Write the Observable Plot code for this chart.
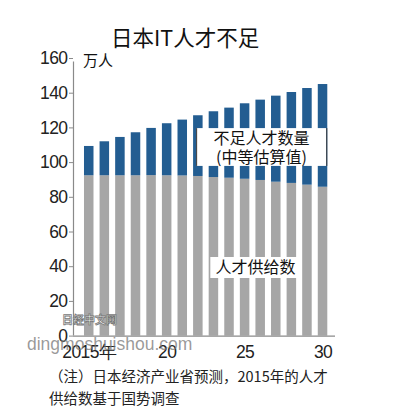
<!DOCTYPE html>
<html>
<head>
<meta charset="utf-8">
<script src="https://cdn.jsdelivr.net/npm/d3@7"></script>
<script src="https://cdn.jsdelivr.net/npm/@observablehq/plot@0.6"></script>
<style>
  html, body { margin: 0; padding: 0; background: #fff; }
  #wrap { position: relative; width: 397px; height: 412px; overflow: hidden; background: #fff;
          font-family: "Noto Sans CJK SC", "Noto Sans", sans-serif; color: #111; }
  #title { position: absolute; left: 111px; top: 26px; font-size: 21.5px; line-height: 22px; white-space: nowrap; }
  #unit { position: absolute; left: 83px; top: 52px; font-size: 15px; line-height: 15px; white-space: nowrap; }
  #chart { position: absolute; left: 0; top: 45px; }
  #chart svg g[aria-label$="tick label"] text { letter-spacing: -0.6px; }
  #note { position: absolute; left: 49px; top: 365px; font-size: 14.5px; line-height: 22px; white-space: nowrap; color: #222; }
  #wm1 { position: absolute; left: 27px; top: 334px; font-family: "Liberation Sans", Arial, sans-serif;
         font-size: 17.5px; line-height: 20px; color: rgba(120,120,120,0.75); white-space: nowrap; }
  #wm2 { position: absolute; left: 62px; top: 313px; font-size: 11px; line-height: 12px; font-weight: bold;
         color: #fff; -webkit-text-stroke: 0.8px #777; white-space: nowrap; }
</style>
</head>
<body>
<div id="wrap">
  <div id="title">日本IT人才不足</div>
  <div id="unit">万人</div>
  <div id="chart"></div>
  <div id="note">（注）日本经济产业省预测，2015年的人才<br>供给数基于国势调查</div>
  <div id="wm2">日经中文网</div>
  <div id="wm1">dingmoshuishou.com</div>
</div>
<script>
// Data (万人)
const years = [2015, 2016, 2017, 2018, 2019, 2020, 2021, 2022, 2023, 2024, 2025, 2026, 2027, 2028, 2029, 2030];
const supply = [92.4, 92.4, 92.4, 92.4, 92.5, 92.4, 92.3, 92.0, 91.4, 91.0, 90.4, 89.7, 88.7, 88.0, 87.0, 85.8];
const shortage = [16.9, 19.6, 22.1, 24.8, 27.2, 30.0, 32.2, 35.0, 37.9, 40.4, 43.5, 46.3, 49.6, 52.4, 55.7, 59.2];
const yTicks = [0, 20, 40, 60, 80, 100, 120, 140, 160];
const xTicks = [2015, 2020, 2025, 2030];
const xTickLabels = ["2015年", "20", "25", "30"];
const shortageLabel = "不足人才数量\n(中等估算值)";
const supplyLabel = "人才供给数";

const rows = years.map((year, i) => ({ year, supply: supply[i], shortage: shortage[i] }));

const blue = "#235d91";
const gray = "#a6a6a6";
const axisColor = "#8a8a8a";
const numFont = '"Liberation Sans", Arial, sans-serif';
const cjkFont = '"Noto Sans CJK SC", "Noto Sans", sans-serif';
const half = 0.305; // half bar width in years
const x0 = 2013.99, x1 = 2030.8;

const chart = Plot.plot({
  width: 397,
  height: 320,
  marginTop: 13,
  marginBottom: 29.4,
  marginLeft: 73,
  marginRight: 62,
  style: { background: "transparent", color: "#222" },
  x: { type: "linear", domain: [x0, x1], axis: null },
  y: { domain: [0, 160], axis: null },
  marks: [
    Plot.rect(rows, { x1: d => d.year - half, x2: d => d.year + half, y1: 0, y2: "supply", fill: gray }),
    Plot.rect(rows, { x1: d => d.year - half, x2: d => d.year + half, y1: "supply", y2: d => d.supply + d.shortage, fill: blue }),
    Plot.ruleY([0], { stroke: axisColor, strokeWidth: 1.2 }),
    Plot.ruleX([x0], { y1: 0, y2: 158, stroke: axisColor, strokeWidth: 1.2 }),
    Plot.axisY({ ticks: yTicks, tickSize: 4, tickPadding: 2, fontSize: 17.5, fontFamily: numFont, stroke: axisColor, label: null }),
    Plot.axisX({ ticks: xTicks, tickFormat: (d) => xTickLabels[xTicks.indexOf(d)], tickSize: 0, tickPadding: 9,
                 fontSize: 17.5, fontFamily: numFont, label: null }),
    // shortage label box
    Plot.rect([shortageLabel], { x1: 2021.89, x2: 2030.24, y1: 97.8, y2: 119.6, fill: "white" }),
    Plot.ruleX([2021.89, 2030.24], { y1: 97.8, y2: 119.6, stroke: "#333", strokeWidth: 1 }),
    Plot.text([shortageLabel], { x: 2026.05, y: 108.9, fontSize: 16, lineHeight: 1.2, fontFamily: cjkFont, fill: "#111" }),
    // supply label box
    Plot.rect([supplyLabel], { x1: 2022.8, x2: 2028.56, y1: 33.2, y2: 45.3, fill: "white" }),
    Plot.text([supplyLabel], { x: 2025.67, y: 39.2, fontSize: 16, fontFamily: cjkFont, fill: "#111" })
  ]
});
document.getElementById("chart").appendChild(chart);
</script>
</body>
</html>
